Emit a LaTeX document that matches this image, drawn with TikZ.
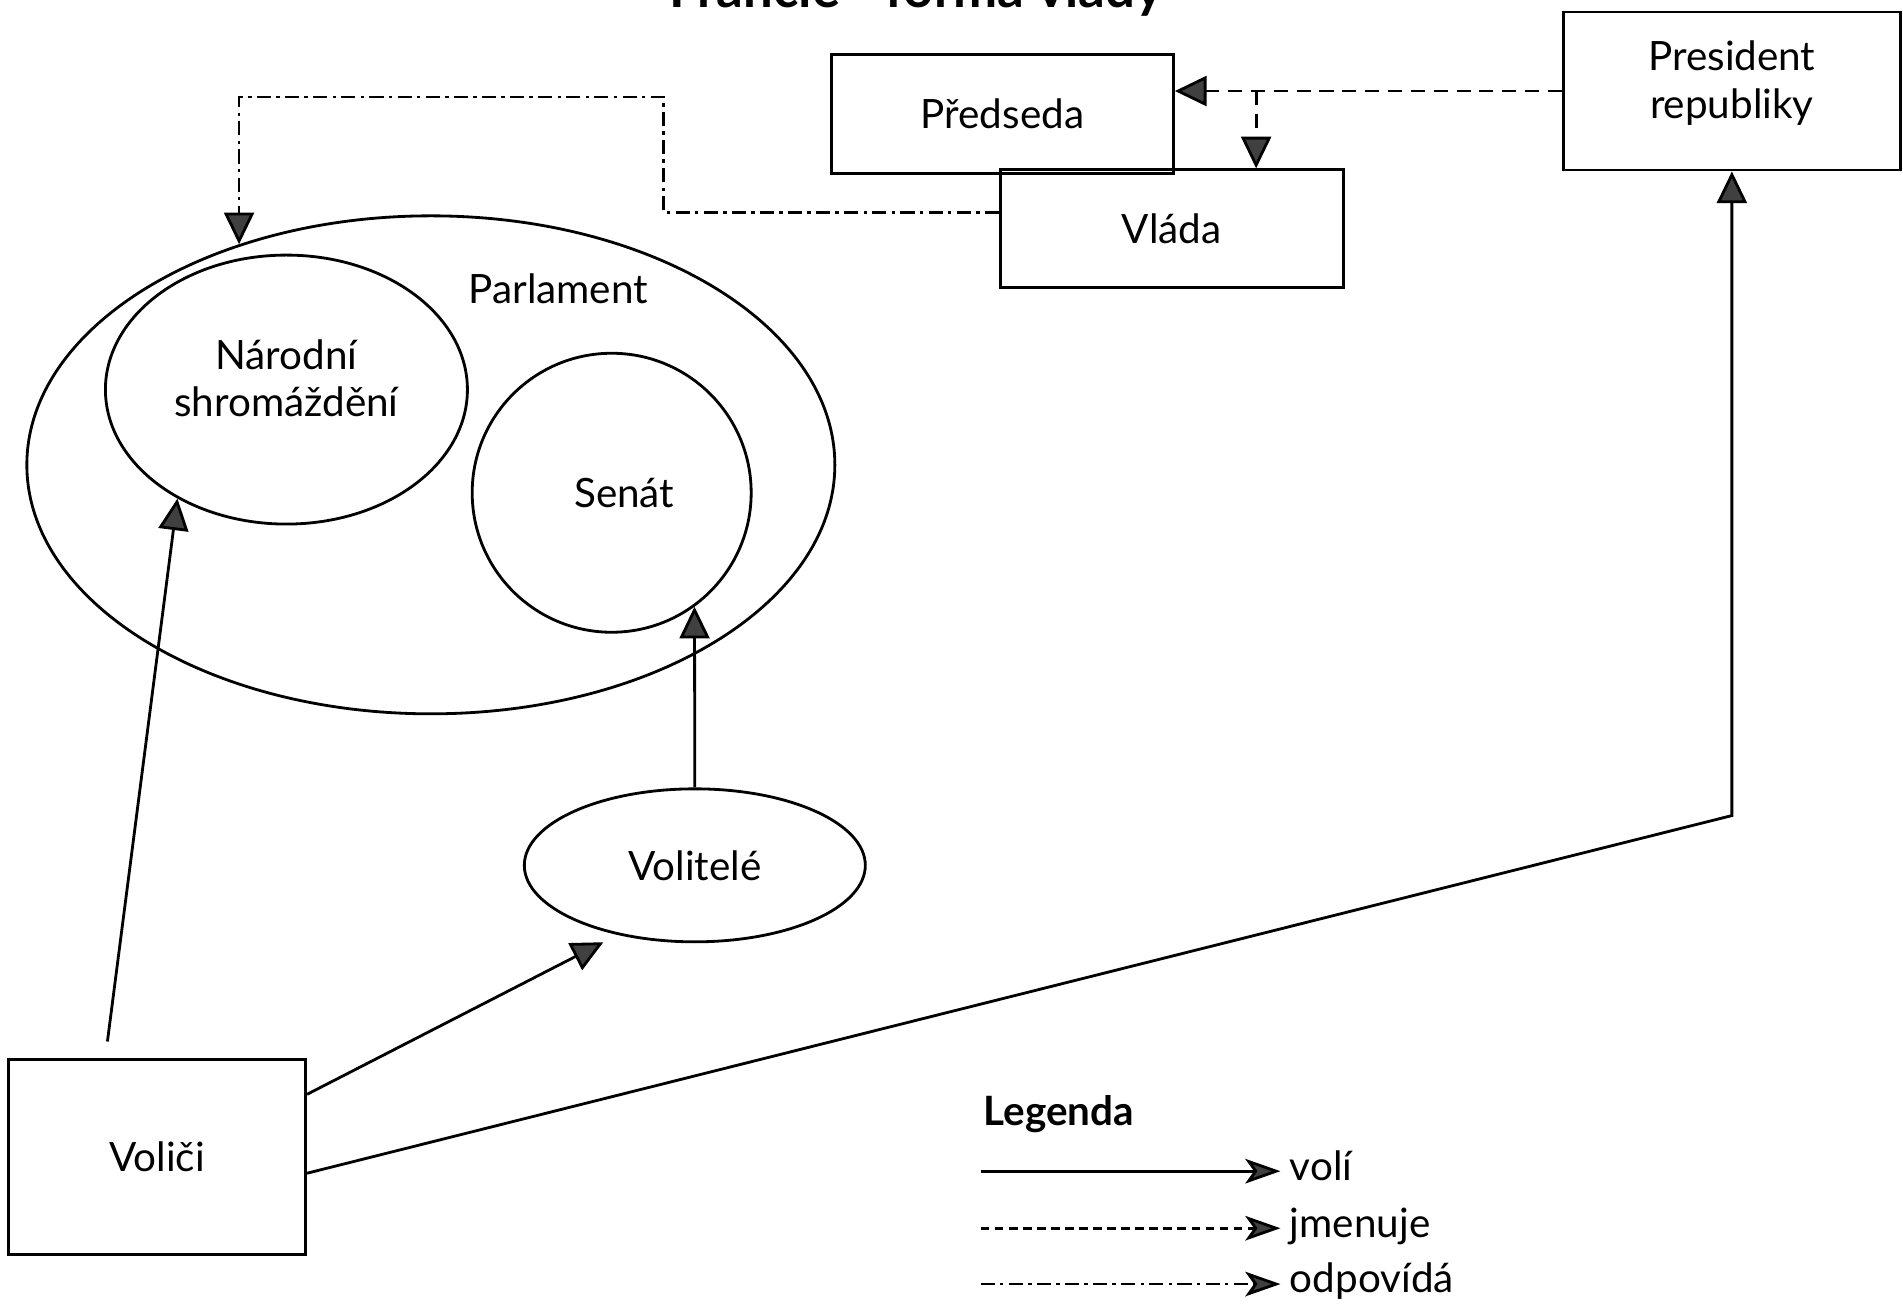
\documentclass[tikz,border=0pt]{standalone}
\usepackage{fontspec}
\setmainfont{Lato}
\usetikzlibrary{arrows.meta,shapes.geometric}

\tikzset{
  box/.style={draw, line width=0.8pt, inner sep=0pt, align=center},
  ovl/.style={draw, ellipse, line width=0.8pt, inner sep=0pt, align=center},
  hrot/.style={-{Triangle[length=9pt,width=8.5pt,fill=black!75]}},
  voli/.style={hrot, line width=0.8pt},
  jmenuje/.style={hrot, line width=0.8pt, dash pattern=on 4pt off 2.5pt},
  odpovida/.style={hrot, line width=0.8pt, dash pattern=on 4pt off 1.5pt on 1pt off 1.5pt},
  leghrot/.style={-{Stealth[length=10pt,width=7pt,inset=2.5pt,fill=black!75]}},
  popis/.style={anchor=mid west, inner sep=2.5pt},
}

\begin{document}
\begin{tikzpicture}[x=0.12137mm, y=-0.12137mm, font=\fontsize{11.5}{13.5}\selectfont]
  \useasboundingbox (0,0) rectangle (1568,1079);
  \clip (0,0) rectangle (1568,1079);
  \node[anchor=base, font=\bfseries\fontsize{15}{18}\selectfont] (nadpis) at (755,6) {Francie - forma vlády};

  % horni rada
  \node[box, minimum width=34.2mm, minimum height=11.9mm] (preds) at (826,94) {Předseda};
  \node[box, minimum width=34.3mm, minimum height=11.8mm] (vlada) at (965.5,188.5) {Vláda};
  \node[box, minimum width=33.7mm, minimum height=15.8mm] (pres) at (1427,75) {President\\republiky\\[-2.5mm]};

  % parlament
  \node[ovl, minimum width=80.8mm, minimum height=49.8mm] (parl) at (355,383) {};
  \node (parltxt) at (460,238) {Parlament};
  \node[ovl, minimum width=36.2mm, minimum height=26.9mm] (ns) at (236,321) {Národní\\shromáždění\\[-2.5mm]};
  \node[ovl, circle, minimum size=27.9mm] (senat) at (504,406) {\hspace*{2.5mm}Senát};

  \node[ovl, minimum width=34.1mm, minimum height=15.3mm] (volitele) at (572.5,713) {Volitelé};
  \node[box, minimum width=29.7mm, minimum height=19.5mm] (volici) at (129.5,953.5) {Voliči};

  % voli
  \draw[voli, shorten <=1.7mm] ([xshift=9.8mm]volici.north west) -- (ns.225);
  \draw[voli, shorten >=1.6mm] ([yshift=-3.6mm]volici.north east) -- (volitele.222);
  \coordinate (zlom) at (1427,672);
  \draw[voli] ([yshift=-1.6mm]volici.east) -- (zlom) -- (pres.south);
  \draw[voli] (volitele.north) -- (senat.306);

  % jmenuje
  \draw[jmenuje] (pres.west) -- (pres.west -| preds.east);
  \coordinate (odb) at (1035,75);
  \draw[jmenuje] (odb) -- (odb |- vlada.north);

  % odpovida
  \coordinate (odp) at (547,80);
  \draw[odpovida] ([yshift=1.6mm]vlada.west) -| (odp) -| (parl.131);

  % legenda
  \node[anchor=west, inner sep=0pt, font=\bfseries\fontsize{11.5}{13.5}\selectfont] (leg) at (810,918) {Legenda};
  \node[popis] (l1) at (1055,965) {volí};
  \node[popis] (l2) at (1055,1012) {jmenuje};
  \node[popis] (l3) at (1055,1058) {odpovídá};
  \coordinate (z1) at (808,965);
  \coordinate (z2) at (808,1012);
  \coordinate (z3) at (808,1058);
  \draw[voli, leghrot] (z1) -- (l1.mid west);
  \draw[jmenuje, leghrot, dash pattern=on 2.5pt off 1.5pt] (z2) -- (l2.mid west);
  \draw[odpovida, leghrot] (z3) -- (l3.mid west);
\end{tikzpicture}
\end{document}
